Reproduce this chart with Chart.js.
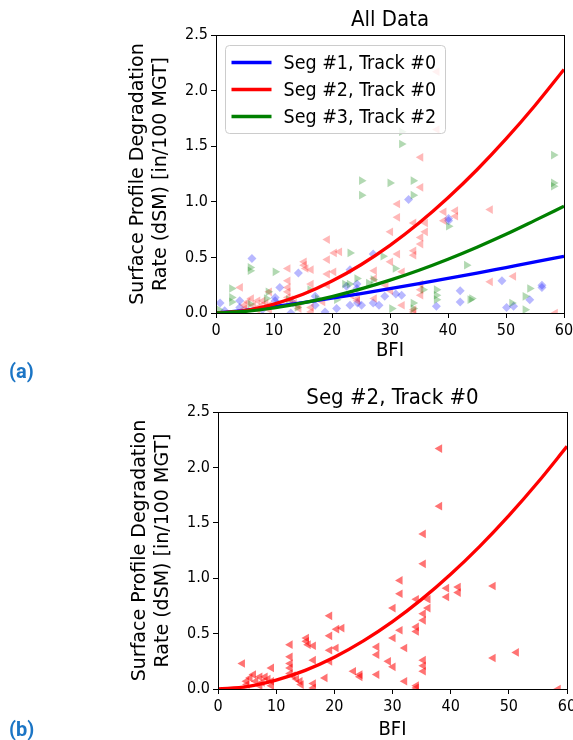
<!DOCTYPE html>
<html>
<head>
  <meta charset="UTF-8">
  <title>Surface Profile Degradation vs BFI</title>
  <script src="https://cdn.jsdelivr.net/npm/chart.js@4.4.0/dist/chart.umd.min.js"></script>
  <style>
    body {
      margin: 0;
      width: 573px;
      height: 740px;
      overflow: hidden;
      position: relative;
      background: #fff;
    }
    canvas { position: absolute; left: 0; }
    #chartA { top: 0; }
    #chartB { top: 370px; }
    .tag {
      position: absolute;
      left: 9px;
      font: bold 20px "Liberation Sans Narrow", Roboto, sans-serif;
      color: #1b75c5;
    }
  </style>
</head>
<body>
  <canvas id="chartA" width="600" height="370"></canvas>
  <canvas id="chartB" width="600" height="370"></canvas>
  <div class="tag" style="top:359px">(a)</div>
  <div class="tag" style="top:717px">(b)</div>

  <script>
    // fitted curves, sampled every 5 BFI
    const fitBfi  = [0, 5, 10, 15, 20, 25, 30, 35, 40, 45, 50, 55, 60];
    const fitSeg1 = [0, 0.024, 0.057, 0.094, 0.133, 0.175, 0.219, 0.264, 0.311, 0.359, 0.409, 0.459, 0.51];
    const fitSeg2 = [0, 0.022, 0.08, 0.168, 0.287, 0.434, 0.608, 0.809, 1.036, 1.288, 1.565, 1.866, 2.19];
    const fitSeg3 = [0, 0.014, 0.046, 0.091, 0.148, 0.217, 0.296, 0.385, 0.484, 0.592, 0.708, 0.833, 0.96];

    // measured rates, Seg #1 Track #0
    const seg1Bfi  = [0.7, 1.5, 4.1, 4.1, 6.2, 8.0, 10.2, 10.2, 10.6, 11.0, 12.9, 13.3, 14.2, 17.1, 17.1, 18.8, 20.8, 22.5, 23.1, 23.1, 24.3,
                      24.3, 24.4, 25.1, 27.1, 27.1, 28.1, 29.1, 31.0, 32.0, 33.2, 38.0, 40.1, 40.1, 42.1, 42.1, 49.3, 50.1, 51.3, 54.1, 56.2, 56.2];
    const seg1Rate = [0.09, 0.02, 0.11, 0.05, 0.49, 0.03, 0.14, 0.11, 0.08, 0.23, 0.00, 0.09, 0.36, 0.15, 0.07, 0.01, 0.04, 0.24, 0.39, 0.07, 0.26,
                      0.22, 0.09, 0.07, 0.53, 0.09, 0.07, 0.15, 0.17, 0.16, 1.02, 0.06, 0.83, 0.85, 0.20, 0.10, 0.29, 0.05, 0.06, 0.12, 0.25, 0.23];

    // Seg #2 Track #0
    const seg2Bfi  = [4.2, 4.9, 5.0, 5.5, 6.1, 6.5, 7.2, 7.2, 7.6, 8.1, 8.6, 9.2, 9.2, 9.2, 12.4, 12.4, 12.4, 12.4, 12.4, 12.9, 13.5, 14.1,
                      14.3, 15.2, 15.2, 15.5, 16.4, 16.4, 16.4, 16.4, 18.4, 19.2, 19.2, 19.2, 19.2, 20.4, 20.3, 21.3, 23.3, 24.4, 24.4,
                      27.3, 27.3, 27.3, 29.3, 30.1, 30.1, 30.1, 31.3, 31.3, 31.3, 32.1, 32.1, 34.1, 34.1, 34.1, 34.1, 34.1, 35.3, 35.3,
                      35.3, 35.3, 35.3, 35.3, 35.3, 36.1, 36.1, 38.1, 38.1, 39.3, 39.3, 41.3, 41.3, 47.3, 47.3, 51.3, 58.5];
    const seg2Rate = [0.23, 0.07, 0.04, 0.10, 0.13, 0.07, 0.11, 0.03, 0.06, 0.11, 0.09, 0.19, 0.07, 0.03, 0.40, 0.29, 0.23, 0.19, 0.14, 0.12, 0.09, 0.07,
                      0.04, 0.46, 0.43, 0.40, 0.39, 0.26, 0.05, 0.01, 0.10, 0.66, 0.48, 0.35, 0.25, 0.54, 0.37, 0.55, 0.16, 0.13, 0.11,
                      0.38, 0.31, 0.13, 0.25, 0.20, 0.73, 0.46, 0.98, 0.86, 0.53, 0.37, 0.07, 0.81, 0.56, 0.52, 0.03, 0.01, 1.40, 1.13,
                      0.68, 0.62, 0.26, 0.21, 0.16, 0.81, 0.73, 2.17, 1.65, 0.91, 0.83, 0.92, 0.87, 0.93, 0.28, 0.33, 0.00];

    // Seg #3 Track #2
    const seg3Bfi  = [0.5, 2.7, 2.7, 2.7, 5.9, 5.9, 5.9, 8.7, 9.0, 10.2, 12.5, 14.0, 16.2, 17.5, 20.8, 22.2, 23.0, 23.1, 24.3, 25.1, 25.1, 26.3,
                      27.1, 28.8, 30.0, 30.3, 30.9, 32.0, 32.0, 34.0, 34.0, 34.0, 34.0, 35.7, 38.0, 38.0, 38.0, 40.1, 43.2, 43.8, 44.1,
                      51.0, 53.3, 53.3, 54.1, 58.2, 58.2, 58.2];
    const seg3Rate = [0.03, 0.22, 0.14, 0.10, 0.41, 0.38, 0.08, 0.13, 0.19, 0.37, 0.12, 0.05, 0.21, 0.13, 0.12, 0.26, 0.26, 0.54, 0.31, 1.19, 1.06, 0.27,
                      0.30, 0.51, 1.17, 0.04, 0.40, 1.63, 1.52, 1.19, 1.06, 0.09, 0.04, 0.21, 0.21, 0.16, 0.12, 0.78, 0.43, 0.12, 0.13,
                      0.09, 0.15, 0.03, 0.22, 1.42, 1.17, 1.14];

    const xTicks = [0, 10, 20, 30, 40, 50, 60];
    const yTicks = [0.0, 0.5, 1.0, 1.5, 2.0, 2.5];

    const FONT = 'DejaVu Sans';
    const NARROW = '"DejaVu Sans Condensed", "DejaVu Sans"';

    function pts(xs, ys) {
      return xs.map((x, i) => ({ x: x, y: ys[i] }));
    }

    function fitLine(label, ys, color, order) {
      return {
        type: 'line', label: label, data: pts(fitBfi, ys),
        borderColor: color, backgroundColor: color, borderWidth: 3.3,
        pointRadius: 0, cubicInterpolationMode: 'monotone', fill: false, order: order
      };
    }

    function markers(xs, ys, color, style, rot, r, order) {
      return {
        type: 'scatter', data: pts(xs, ys),
        backgroundColor: color, borderWidth: 0,
        pointStyle: style, rotation: rot, pointRadius: r, pointHoverRadius: r, order: order
      };
    }

    // four black spines around the plot
    const frame = {
      id: 'frame',
      afterDatasetsDraw(chart) {
        const { ctx, chartArea: a } = chart;
        ctx.save();
        ctx.strokeStyle = '#000';
        ctx.lineWidth = 1;
        ctx.strokeRect(Math.round(a.left) + 0.5, Math.round(a.top) + 0.5,
                       Math.round(a.right - a.left), Math.round(a.bottom - a.top));
        ctx.restore();
      }
    };

    // boxed legend in the upper left corner, for the fit lines only
    const lineLegend = {
      id: 'lineLegend',
      afterDatasetsDraw(chart, args, opts) {
        if (!opts.show) return;
        const { ctx, chartArea: a } = chart;
        const items = chart.data.datasets.filter(d => d.type === 'line');
        ctx.save();
        ctx.font = '19.5px ' + NARROW;
        const textW = Math.max(...items.map(d => ctx.measureText(d.label).width));
        const x = Math.round(a.left) + 9.5, y = Math.round(a.top) + 10.5;
        const w = Math.round(58 + textW + 9), h = 88;
        ctx.beginPath();
        ctx.roundRect(x, y, w, h, 4);
        ctx.fillStyle = 'rgba(255,255,255,0.8)';
        ctx.fill();
        ctx.strokeStyle = '#cccccc';
        ctx.lineWidth = 1;
        ctx.stroke();
        items.forEach((d, i) => {
          const cy = y + 17 + 27 * i;
          ctx.strokeStyle = d.borderColor;
          ctx.lineWidth = 3.3;
          ctx.beginPath();
          ctx.moveTo(x + 6, cy);
          ctx.lineTo(x + 46, cy);
          ctx.stroke();
          ctx.fillStyle = '#000';
          ctx.textBaseline = 'middle';
          ctx.fillText(d.label, x + 58, cy + 1);
        });
        ctx.restore();
      }
    };

    function makeChart(id, cfg) {
      return new Chart(document.getElementById(id), {
        type: 'scatter',
        data: { datasets: cfg.datasets },
        options: {
          responsive: false,
          animation: false,
          devicePixelRatio: 1,
          layout: { padding: cfg.padding },
          plugins: {
            legend: { display: false },
            tooltip: { enabled: false },
            title: {
              display: true, text: cfg.title, fullSize: false, color: '#000',
              font: { family: NARROW, size: 22, weight: 'normal' },
              padding: cfg.titlePad
            },
            lineLegend: { show: cfg.legend }
          },
          scales: {
            x: {
              type: 'linear', min: 0, max: 60,
              afterBuildTicks: s => { s.ticks = xTicks.map(v => ({ value: v })); },
              afterFit: s => { s.height = cfg.xAxisH; },
              border: { display: false },
              grid: { drawOnChartArea: false, drawTicks: true, tickLength: 5, color: '#000' },
              ticks: { padding: 3, color: '#000', font: { family: NARROW, size: 16 }, callback: v => String(v) },
              title: {
                display: true, text: 'BFI', color: '#000',
                font: { family: NARROW, size: 20, lineHeight: 1 }, padding: { top: 0, bottom: 0 }
              }
            },
            y: {
              type: 'linear', min: 0, max: 2.5,
              afterBuildTicks: s => { s.ticks = yTicks.map(v => ({ value: v })); },
              afterFit: s => { s.width = 96; },
              border: { display: false },
              grid: { drawOnChartArea: false, drawTicks: true, tickLength: 5, color: '#000' },
              ticks: { padding: 3, color: '#000', font: { family: NARROW, size: 16 }, callback: v => v.toFixed(1) },
              title: {
                display: true, color: '#000',
                text: ['Surface Profile Degradation', 'Rate (dSM) [in/100 MGT]'],
                font: { family: FONT, size: 19 }, padding: { top: 7, bottom: 0 }
              }
            }
          }
        },
        plugins: [frame, lineLegend]
      });
    }

    makeChart('chartA', {
      title: 'All Data',
      titlePad: { top: 6.8, bottom: 1.8 },
      padding: { left: 120, right: 36, top: 0, bottom: 9 },
      xAxisH: 48,
      legend: true,
      datasets: [
        fitLine('Seg #1, Track #0', fitSeg1, 'rgb(0,0,255)', 2),
        fitLine('Seg #2, Track #0', fitSeg2, 'rgb(255,0,0)', 1),
        fitLine('Seg #3, Track #2', fitSeg3, 'rgb(0,128,0)', 0),
        markers(seg1Bfi, seg1Rate, 'rgba(0,0,255,0.28)', 'rectRot', 0, 4.5, 7),
        markers(seg2Bfi, seg2Rate, 'rgba(255,0,0,0.28)', 'triangle', -90, 5, 6),
        markers(seg3Bfi, seg3Rate, 'rgba(0,128,0,0.3)', 'triangle', 90, 5, 5)
      ]
    });

    makeChart('chartB', {
      title: 'Seg #2, Track #0',
      titlePad: { top: 14.8, bottom: 0.8 },
      padding: { left: 122, right: 33, top: 0, bottom: 0 },
      xAxisH: 51,
      legend: false,
      datasets: [
        fitLine('Seg #2, Track #0', fitSeg2, 'rgb(255,0,0)', 0),
        markers(seg2Bfi, seg2Rate, 'rgba(255,0,0,0.55)', 'triangle', -90, 5, 5)
      ]
    });
  </script>
</body>
</html>
